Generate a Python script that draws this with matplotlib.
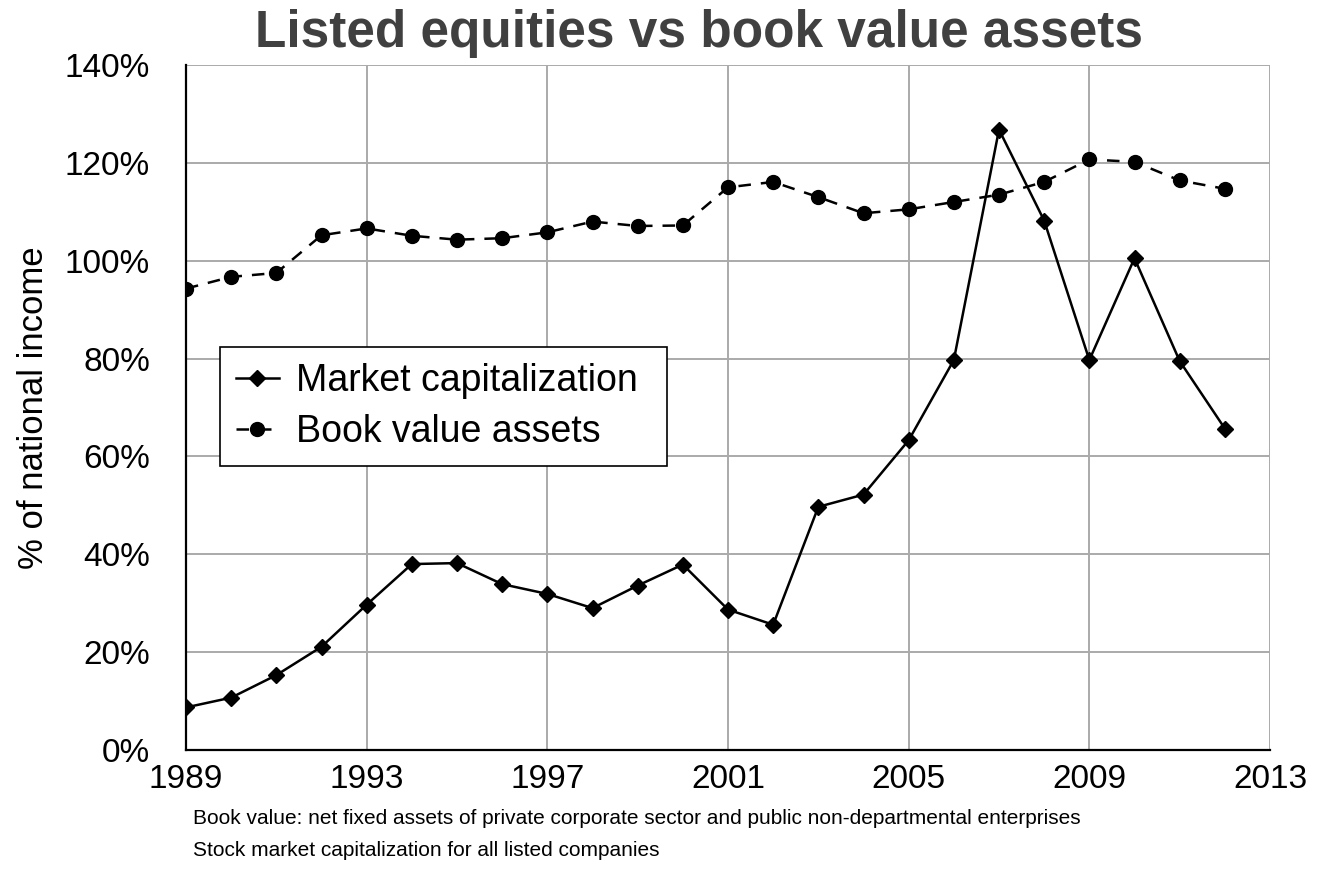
import matplotlib
matplotlib.use("Agg")
import matplotlib.pyplot as plt
from matplotlib.ticker import FuncFormatter

plt.rcParams['font.family'] = ['Liberation Sans', 'DejaVu Sans']

years = list(range(1989, 2013))
market_cap = [8.7, 10.7, 15.3, 21.1, 29.7, 38.0, 38.2, 33.9, 31.9, 29.0, 33.6, 37.9,
              28.7, 25.6, 49.7, 52.2, 63.3, 79.7, 126.8, 108.2, 79.7, 100.5, 79.5, 65.7]
book_value = [94.3, 96.7, 97.5, 105.2, 106.6, 105.1, 104.3, 104.6, 105.8, 108.0, 107.1, 107.2,
              115.0, 116.1, 113.0, 109.7, 110.5, 112.0, 113.5, 116.1, 120.7, 120.2, 116.4, 114.7]
x_ticks = [1989, 1993, 1997, 2001, 2005, 2009, 2013]
y_ticks = [0, 20, 40, 60, 80, 100, 120, 140]

title = "Listed equities vs book value assets"
ylabel = "% of national income"
notes = ["Book value: net fixed assets of private corporate sector and public non-departmental enterprises",
         "Stock market capitalization for all listed companies"]

fig = plt.figure(figsize=(13.23, 8.9), dpi=100)
ax = fig.add_axes([186/1323, 1-750/890, (1270-186)/1323, (750-65)/890])

ax.plot(years, market_cap, color='black', lw=1.8, marker='D', ms=8.5,
        label='Market capitalization')
ax.plot(years, book_value, color='black', lw=1.8, marker='o', ms=10,
        linestyle=(0, (5, 4)), label='Book value assets')

ax.set_xlim(1989, 2013)
ax.set_ylim(0, 140)
ax.set_xticks(x_ticks)
ax.set_yticks(y_ticks)
ax.yaxis.set_major_formatter(FuncFormatter(lambda v, p: f"{int(v)}%"))
ax.grid(True, color='#aaaaaa', lw=1.4)
ax.set_axisbelow(True)
for s in ['top', 'right']:
    ax.spines[s].set_visible(False)
for s in ['left', 'bottom']:
    ax.spines[s].set_linewidth(1.6)
    ax.spines[s].set_color('black')
    ax.spines[s].set_zorder(3)
ax.tick_params(axis='both', length=0, labelsize=24)
ax.tick_params(axis='x', pad=10)
ax.tick_params(axis='y', pad=26)

lx0 = (220-186)/1084
lx1 = (667-186)/1084
ly1 = (750-347)/685
ly0 = (750-465)/685
leg = ax.legend(loc='upper left', bbox_to_anchor=(lx0, ly0, lx1-lx0, ly1-ly0),
                mode='expand', borderaxespad=0, fancybox=False, edgecolor='black',
                framealpha=1, fontsize=27, handlelength=1.15, handletextpad=0.45,
                borderpad=0.42, labelspacing=0.42)
leg.get_frame().set_linewidth(1.2)

fig.text(34/1323, 1-408/890, ylabel, rotation=90, ha='center', va='center', fontsize=25)
fig.text(699/1323, 1-33/890, title, ha='center', va='center', fontsize=37,
         fontweight='bold', color='#404040')
fig.text(193/1323, 1-818/890, notes[0], ha='left', va='center', fontsize=15)
fig.text(193/1323, 1-851/890, notes[1], ha='left', va='center', fontsize=15)

fig.savefig("out.png", dpi=100)
